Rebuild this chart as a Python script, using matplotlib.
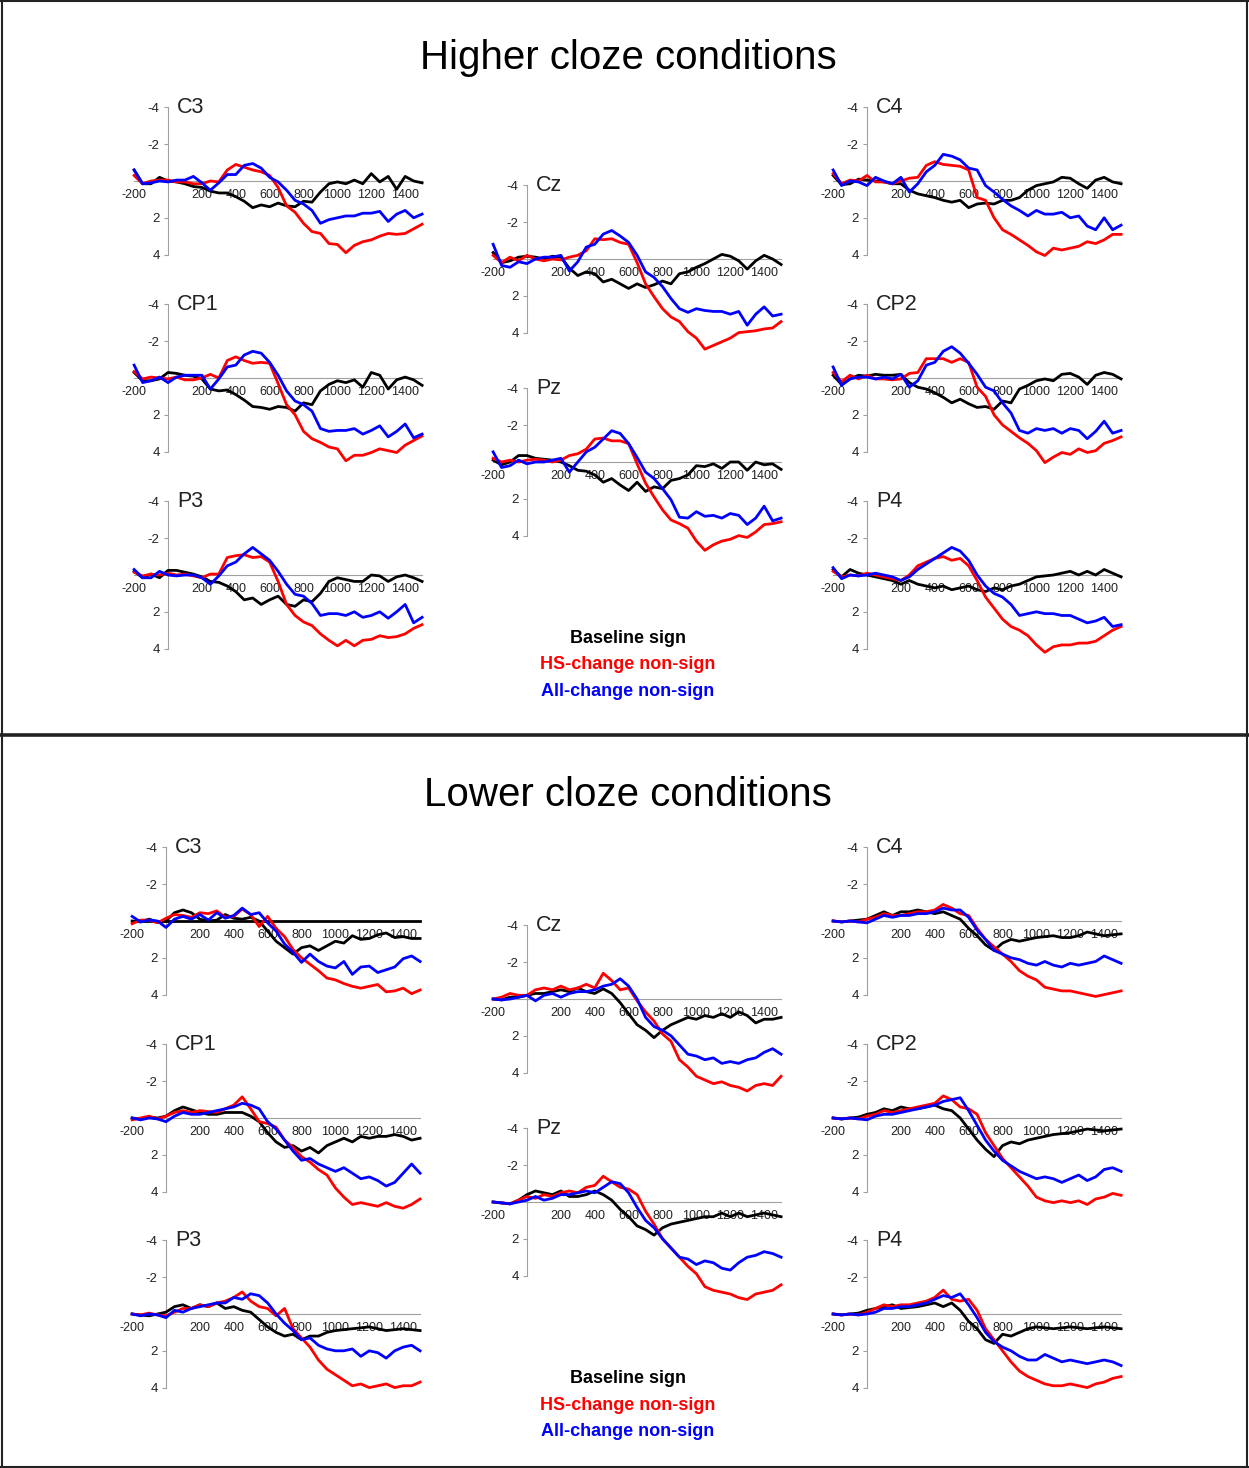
import numpy as np
import matplotlib.pyplot as plt

plt.rcParams['font.family'] = ['Liberation Sans', 'DejaVu Sans']
plt.rcParams['axes.unicode_minus'] = False

# time axis (ms), one sample every 50 ms
times = list(range(-200, 1501, 50))
series_names = ['Baseline sign', 'HS-change non-sign', 'All-change non-sign']
series_colors = ['black', '#ff0000', '#0000ff']
xtick_vals = [-200, 200, 400, 600, 800, 1000, 1200, 1400]
ytick_vals = [-4, -2, 2, 4]

# ---- higher cloze (uV, negative up) ----
hi_c3_base = [-0.6,0.15,0.15,-0.2,0,0.05,0.15,0.3,0.35,0.55,0.65,0.65,0.85,1.1,1.45,1.3,1.4,1.2,1.35,1.4,1.1,1.15,0.6,0.15,0.05,0.15,-0.05,0.15,-0.4,0.05,-0.25,0.45,-0.25,0,0.1]
hi_c3_hs = [-0.3,0.15,0,-0.05,-0.05,0.05,0.05,0.15,0.15,0,0.05,-0.6,-0.9,-0.75,-0.6,-0.5,-0.3,0.35,1.35,1.7,2.3,2.75,2.85,3.4,3.45,3.9,3.5,3.3,3.2,3.0,2.85,2.9,2.85,2.6,2.35]
hi_c3_all = [-0.6,0.15,0.1,0,0.05,-0.05,-0.05,-0.25,0.1,0.5,0.1,-0.35,-0.35,-0.85,-0.95,-0.7,-0.2,0.05,0.5,1.05,1.25,1.6,2.3,2.1,2.0,1.9,1.9,1.75,1.75,1.65,2.2,1.8,1.6,2.0,1.8]

hi_cp1_base = [-0.3,0.15,0.15,0.05,-0.3,-0.25,-0.15,-0.1,0.05,0.6,0.7,0.65,0.9,1.2,1.55,1.6,1.7,1.55,1.6,1.8,1.35,1.45,0.7,0.35,0.15,0.25,0.1,0.5,-0.3,-0.15,0.6,0.1,-0.05,0.1,0.4]
hi_cp1_hs = [-0.35,0.05,-0.05,0,0.05,-0.05,0.1,0.1,0,-0.2,0,-0.95,-1.15,-0.95,-0.8,-0.85,-0.8,0.3,1.45,2.0,2.9,3.3,3.5,3.75,3.85,4.5,4.2,4.2,4.05,3.85,3.95,4.05,3.65,3.4,3.15]
hi_cp1_all = [-0.7,0.25,0.15,-0.05,0.25,-0.05,-0.15,-0.15,-0.15,0.6,0.05,-0.6,-0.7,-1.25,-1.45,-1.35,-0.85,-0.15,0.7,1.25,1.45,1.8,2.75,2.9,2.85,2.85,2.75,3.05,2.85,2.6,3.2,2.9,2.5,3.25,3.05]

hi_p3_base = [-0.2,0.15,-0.05,0.15,-0.25,-0.25,-0.15,-0.05,0.1,0.35,0.4,0.6,0.9,1.35,1.25,1.6,1.35,1.15,1.6,1.7,1.35,1.45,1.0,0.35,0.15,0.25,0.35,0.35,0,0.05,0.35,0.1,0,0.15,0.35]
hi_p3_hs = [-0.15,0.05,-0.05,0,-0.1,0,-0.05,0.05,0.15,-0.05,-0.05,-0.95,-1.05,-1.1,-0.95,-1.0,-0.7,0.35,1.6,2.2,2.55,2.75,3.2,3.55,3.85,3.55,3.85,3.55,3.5,3.3,3.4,3.35,3.2,2.9,2.7]
hi_p3_all = [-0.3,0.15,0.15,-0.2,0,0.05,0,0,0.15,0.5,0.05,-0.5,-0.7,-1.15,-1.5,-1.15,-0.8,-0.2,0.5,1.05,1.15,1.55,2.2,2.1,2.1,2.2,2.0,2.3,2.2,2.0,2.35,2.0,1.6,2.6,2.3]

hi_cz_base = [-0.35,0.2,0.1,-0.1,-0.15,-0.1,0,-0.15,-0.1,0.5,0.9,0.7,0.8,1.25,1.1,1.35,1.6,1.35,1.55,1.4,1.2,1.35,0.8,0.7,0.45,0.25,0,-0.25,-0.15,0.1,0.55,0.1,-0.2,0,0.3]
hi_cz_hs = [-0.2,0.2,-0.1,0.1,-0.2,0,0.1,0,0.05,-0.1,-0.2,-0.45,-1.1,-1.05,-1.1,-0.9,-0.8,0.2,1.35,2.05,2.7,3.15,3.4,3.95,4.3,4.9,4.7,4.5,4.3,4.0,3.95,3.9,3.8,3.75,3.4]
hi_cz_all = [-0.8,0.35,0.45,0.15,0.25,0,-0.1,-0.1,-0.2,0.65,0.15,-0.65,-0.8,-1.35,-1.55,-1.25,-0.9,-0.2,0.7,1.0,1.5,2.15,2.7,2.9,2.7,2.8,2.85,2.85,3.0,2.85,3.6,3.0,2.6,3.1,3.0]

hi_pz_base = [-0.1,0.15,0,-0.35,-0.35,-0.2,-0.15,-0.1,0,0.2,0.45,0.5,0.7,1.1,0.9,1.25,1.55,1.1,1.6,1.35,1.45,1.0,0.9,0.7,0.2,0.25,0.1,0.35,0,0,0.45,0,0.15,0.1,0.4]
hi_pz_hs = [-0.2,0,-0.1,0,-0.1,-0.15,-0.1,0,-0.1,-0.35,-0.45,-0.7,-1.25,-1.3,-1.15,-1.15,-1.0,0.1,1.15,1.9,2.6,3.15,3.35,3.6,4.3,4.8,4.5,4.3,4.2,4.0,4.1,3.8,3.4,3.35,3.25]
hi_pz_all = [-0.55,0.3,0.2,-0.1,0.1,0,0,-0.1,-0.2,0.55,0,-0.55,-0.8,-1.25,-1.7,-1.55,-1.0,-0.25,0.55,0.9,1.45,2.05,3.0,3.05,2.7,2.95,2.9,3.05,2.8,2.9,3.4,3.05,2.4,3.2,3.05]

hi_c4_base = [-0.3,0.2,0.15,-0.1,-0.05,0,0.05,0.15,0.15,0.5,0.7,0.8,0.9,1.05,1.15,1.05,1.45,1.25,1.2,1.25,1.05,1.05,0.9,0.5,0.25,0.15,0.05,-0.2,-0.15,0.15,0.4,-0.05,-0.2,0.05,0.15]
hi_c4_hs = [-0.4,0.15,-0.05,0,-0.3,0.05,0.05,0.15,0,-0.15,-0.2,-0.85,-1.05,-0.9,-0.85,-0.8,-0.6,0.9,1.05,2.0,2.65,2.9,3.2,3.5,3.85,4.05,3.65,3.75,3.65,3.55,3.3,3.4,3.2,2.9,2.9]
hi_c4_all = [-0.6,0.25,0,0.05,0.25,-0.2,0,0.15,-0.2,0.6,0.15,-0.5,-0.85,-1.45,-1.35,-1.15,-0.7,-0.6,0.25,0.6,1.0,1.35,1.6,1.9,1.6,1.8,1.8,1.7,2.0,1.9,2.45,2.65,2.0,2.65,2.4]

hi_cp2_base = [-0.15,0.35,0.05,-0.15,-0.1,-0.2,-0.15,-0.15,-0.2,0.25,0.5,0.6,0.8,1.05,1.35,1.15,1.4,1.6,1.55,1.7,1.25,1.35,0.6,0.4,0.15,0.05,0.15,-0.2,-0.25,-0.05,0.35,-0.15,-0.3,-0.2,0.05]
hi_cp2_hs = [-0.3,0.2,-0.15,0.05,-0.15,0.05,0.05,0.1,0.05,-0.25,-0.3,-1.05,-1.05,-1.05,-0.85,-1.05,-0.85,0.5,1.0,2.0,2.55,2.9,3.25,3.55,3.95,4.6,4.3,4.05,4.15,3.85,4.05,3.95,3.55,3.4,3.2]
hi_cp2_all = [-0.6,0.4,0.05,-0.05,-0.05,0.05,-0.05,0.05,-0.2,0.5,0.15,-0.7,-0.85,-1.45,-1.7,-1.35,-0.8,-0.2,0.5,0.7,1.35,1.9,2.85,3.0,2.75,2.85,2.75,3.0,2.75,2.85,3.3,2.9,2.35,3.0,2.85]

hi_p4_base = [-0.3,0.1,-0.3,-0.1,0,0.1,0.2,0.3,0.5,0.3,0.5,0.6,0.7,0.6,0.8,0.7,0.6,0.8,0.9,0.7,0.8,0.6,0.5,0.3,0.1,0.05,0.0,-0.1,-0.2,0.0,-0.2,0.0,-0.3,-0.1,0.1]
hi_p4_hs = [-0.2,0.1,0,0.05,-0.1,0,0.1,0.2,0.3,0,-0.5,-0.7,-0.9,-1.0,-0.8,-0.9,-0.5,0.3,1.2,1.8,2.4,2.8,3.0,3.3,3.8,4.2,3.9,3.8,3.8,3.7,3.7,3.6,3.3,3.0,2.8]
hi_p4_all = [-0.4,0.2,0,0.05,0,-0.1,0,0.1,0.3,0.1,-0.3,-0.6,-0.9,-1.2,-1.5,-1.3,-0.8,0,0.6,1.0,1.2,1.6,2.2,2.1,2.0,2.1,2.1,2.2,2.2,2.4,2.6,2.5,2.3,2.8,2.7]

# ---- lower cloze ----
lo_c3_base = [0,0.05,-0.1,0.05,0,-0.45,-0.6,-0.45,-0.1,0,-0.05,-0.35,-0.15,-0.1,-0.2,0,0.55,1.1,1.45,1.8,1.45,1.35,1.6,1.35,1.1,1.2,0.8,1.0,0.95,0.75,0.65,0.9,0.85,0.95,0.95]
lo_c3_hs = [0.15,-0.05,-0.05,0.1,-0.15,-0.35,-0.3,-0.2,-0.45,-0.4,-0.55,-0.2,-0.25,-0.65,-0.35,0.3,-0.25,0.4,0.85,1.55,2.0,2.35,2.7,3.1,3.2,3.4,3.55,3.65,3.55,3.45,3.85,3.8,3.65,3.95,3.75]
lo_c3_all = [-0.25,0.05,-0.05,0,0.35,-0.1,-0.25,-0.1,-0.35,-0.05,-0.45,-0.15,-0.3,-0.7,-0.35,-0.45,0.1,0.55,1.25,1.7,2.25,1.8,2.2,2.45,2.55,2.2,2.9,2.5,2.45,2.8,2.65,2.5,2.05,1.9,2.2]

lo_cp1_base = [0,0.05,-0.05,0,-0.1,-0.4,-0.6,-0.45,-0.3,-0.2,-0.2,-0.3,-0.3,-0.3,-0.1,0.2,0.8,1.3,1.6,1.5,1.8,1.6,1.9,1.5,1.3,1.1,1.3,1.0,1.1,1.0,1.0,0.9,1.0,1.2,1.1]
lo_cp1_hs = [0.1,0,-0.1,0.05,-0.1,-0.3,-0.4,-0.3,-0.4,-0.35,-0.3,-0.5,-0.7,-1.15,-0.5,0.2,0.3,0.5,1.2,1.6,2.1,2.4,2.8,3.1,3.8,4.3,4.7,4.6,4.7,4.8,4.6,4.8,4.9,4.7,4.4]
lo_cp1_all = [0,0.1,0,0.05,0.2,-0.1,-0.3,-0.2,-0.2,-0.3,-0.4,-0.5,-0.6,-0.8,-0.7,-0.5,0.2,0.6,1.2,1.8,2.3,2.2,2.5,2.7,2.9,2.7,3.0,3.3,3.2,3.4,3.7,3.5,3.0,2.5,3.0]

lo_p3_base = [0,0.05,0.1,0,-0.1,-0.4,-0.5,-0.3,-0.5,-0.4,-0.6,-0.3,-0.4,-0.2,-0.1,0.3,0.7,1.0,1.2,1.1,1.4,1.2,1.2,1.0,0.9,0.85,0.8,0.75,0.7,0.8,0.9,0.85,0.8,0.85,0.9]
lo_p3_hs = [0,0.05,-0.05,0.05,0.1,-0.1,-0.3,-0.3,-0.5,-0.4,-0.6,-0.7,-0.9,-1.2,-0.7,-0.4,-0.3,0.1,-0.3,0.8,1.3,1.8,2.5,3.0,3.3,3.6,3.9,3.8,4.0,3.9,3.8,4.0,3.9,3.9,3.7]
lo_p3_all = [0,0.1,0,0.05,0.2,-0.2,-0.1,-0.3,-0.4,-0.5,-0.6,-0.6,-0.9,-0.8,-1.1,-1.0,-0.6,0,0.5,0.9,1.4,1.3,1.7,1.9,2.0,2.0,1.9,2.3,2.0,2.1,2.4,2.0,1.8,1.7,2.0]

lo_cz_base = [0,0.05,-0.1,-0.1,-0.2,-0.3,-0.3,-0.4,-0.5,-0.4,-0.6,-0.4,-0.3,-0.55,-0.3,0.2,0.8,1.4,1.7,2.1,1.7,1.4,1.2,1.0,1.1,0.9,1.0,0.8,1.0,0.7,0.9,1.3,1.1,1.1,1.0]
lo_cz_hs = [0,-0.1,-0.3,-0.2,-0.2,-0.5,-0.6,-0.5,-0.7,-0.5,-0.6,-0.8,-0.6,-1.4,-1.0,-0.5,-0.6,0.1,0.7,1.2,1.9,2.3,3.3,3.7,4.2,4.4,4.6,4.5,4.7,4.8,5.0,4.7,4.6,4.7,4.2]
lo_cz_all = [0,0.05,0,-0.1,-0.2,0.1,-0.2,-0.3,-0.1,-0.3,-0.4,-0.4,-0.5,-0.7,-0.8,-1.1,-0.7,0,1.0,1.5,1.7,2.0,2.5,3.0,3.1,3.3,3.2,3.5,3.4,3.5,3.3,3.2,2.9,2.7,3.0]

lo_pz_base = [0,0.05,0.1,-0.1,-0.4,-0.6,-0.5,-0.4,-0.6,-0.3,-0.3,-0.4,-0.6,-0.4,-0.1,0.4,0.8,1.3,1.5,1.8,1.4,1.2,1.1,1.0,0.9,0.8,0.8,0.6,0.8,0.6,0.8,0.7,0.6,0.7,0.8]
lo_pz_hs = [0,0.05,0.1,-0.1,-0.3,-0.2,-0.4,-0.3,-0.5,-0.6,-0.5,-0.8,-0.9,-1.4,-1.1,-0.8,-0.7,-0.4,0.5,1.2,2.0,2.5,3.0,3.5,3.9,4.6,4.8,4.9,5.0,5.2,5.3,5.0,4.9,4.8,4.5]
lo_pz_all = [0,0.05,0.1,0,-0.1,-0.3,-0.1,-0.2,-0.4,-0.4,-0.5,-0.6,-0.5,-0.8,-1.1,-1.0,-0.5,0.3,1.0,1.4,2.0,2.5,3.0,3.1,3.4,3.2,3.3,3.6,3.7,3.3,3.0,2.9,2.7,2.8,3.0]

lo_c4_base = [0,0.05,0,-0.05,-0.1,-0.3,-0.5,-0.3,-0.5,-0.5,-0.6,-0.5,-0.4,-0.5,-0.3,-0.1,0.4,0.8,1.3,1.6,1.2,1.0,1.1,1.0,0.9,0.85,0.8,0.9,0.9,0.8,0.6,0.7,0.8,0.75,0.7]
lo_c4_hs = [0,0.05,0,0.05,-0.1,-0.2,-0.4,-0.3,-0.3,-0.4,-0.5,-0.5,-0.6,-0.9,-0.7,-0.4,-0.3,0.4,1.0,1.4,1.8,2.2,2.7,3.0,3.2,3.6,3.7,3.8,3.8,3.9,4.0,4.1,4.0,3.9,3.8]
lo_c4_all = [0,0.05,0,0.05,0.1,-0.1,-0.3,-0.2,-0.3,-0.3,-0.4,-0.4,-0.5,-0.7,-0.6,-0.6,-0.2,0.5,1.0,1.6,1.8,2.0,2.1,2.3,2.4,2.2,2.4,2.5,2.3,2.4,2.3,2.2,1.9,2.1,2.3]

lo_cp2_base = [0,0.05,0,-0.05,-0.2,-0.3,-0.5,-0.4,-0.6,-0.5,-0.5,-0.6,-0.7,-0.5,-0.4,0,0.6,1.2,1.7,2.1,1.5,1.3,1.4,1.2,1.1,1.0,0.9,0.85,0.8,0.7,0.6,0.65,0.7,0.65,0.6]
lo_cp2_hs = [0,0.05,0,0.05,-0.1,-0.2,-0.4,-0.3,-0.4,-0.5,-0.6,-0.7,-0.8,-1.2,-1.0,-0.6,-0.5,-0.2,0.8,1.5,2.2,2.7,3.2,3.7,4.3,4.5,4.6,4.5,4.6,4.5,4.7,4.4,4.3,4.1,4.2]
lo_cp2_all = [0,0.05,0,0.05,0.1,-0.1,-0.2,-0.2,-0.3,-0.4,-0.5,-0.6,-0.7,-0.9,-1.0,-1.1,-0.4,0.4,1.2,1.8,2.3,2.6,2.9,3.1,3.3,3.2,3.3,3.5,3.3,3.1,3.4,3.2,2.8,2.7,2.9]

lo_p4_base = [0,0.05,0,-0.05,-0.2,-0.3,-0.4,-0.5,-0.3,-0.35,-0.4,-0.5,-0.6,-0.4,-0.6,-0.2,0.4,0.8,1.4,1.6,1.1,1.2,1.0,0.8,0.7,0.75,0.8,0.75,0.7,0.75,0.8,0.75,0.7,0.75,0.8]
lo_p4_hs = [0,0.05,0,0.05,-0.1,-0.3,-0.5,-0.4,-0.5,-0.5,-0.6,-0.7,-0.9,-1.3,-0.8,-0.7,-0.8,-0.2,0.8,1.4,2.0,2.6,3.1,3.4,3.6,3.8,3.9,3.9,3.8,3.9,4.0,3.8,3.7,3.5,3.4]
lo_p4_all = [0,0.05,0,0.05,0,-0.1,-0.3,-0.3,-0.4,-0.4,-0.5,-0.6,-0.8,-1.0,-0.9,-1.1,-0.5,0.2,1.0,1.5,1.8,2.0,2.3,2.5,2.5,2.2,2.4,2.6,2.5,2.6,2.7,2.6,2.5,2.6,2.8]

W, H = 1249, 1468
SX = 0.1694   # px per ms
SY = 18.4     # px per uV

fig = plt.figure(figsize=(W / 100, H / 100), dpi=100)


def add_erp(x0, y0, label, waves, dark_axis=False):
    # x0, y0: pixel position of (0 ms, 0 uV)
    left = x0 - 200 * SX
    top = y0 - 4 * SY
    ax = fig.add_axes([left / W, 1 - (top + 8 * SY) / H, 1700 * SX / W, 8 * SY / H])
    ax.set_xlim(-200, 1500)
    ax.set_ylim(4, -4)
    for s in ['top', 'right']:
        ax.spines[s].set_visible(False)
    ax.spines['left'].set_position(('data', 0))
    ax.spines['bottom'].set_position(('data', 0))
    ax.spines['left'].set_color('#a0a0a0')
    if dark_axis:
        ax.spines['bottom'].set_color('black')
        ax.spines['bottom'].set_linewidth(2)
    else:
        ax.spines['bottom'].set_color('#a0a0a0')
    ax.set_xticks(xtick_vals)
    ax.set_xticklabels([str(v) for v in xtick_vals])
    ax.set_yticks(ytick_vals)
    ax.set_yticklabels([str(v) for v in ytick_vals])
    ax.tick_params(axis='x', length=0, pad=6, labelsize=9, colors='#222222')
    ax.tick_params(axis='y', length=3, width=0.8, color='#a0a0a0', pad=3,
                   labelsize=9.5, labelcolor='#222222')
    ax.patch.set_alpha(0)
    for vals, col in zip(waves, series_colors):
        ax.plot(times, vals, color=col, lw=2.0, zorder=3, clip_on=False,
                solid_joinstyle='round')
    ax.annotate(label, xy=(0, -4), xytext=(6.5, 0), textcoords='offset points',
                fontsize=15.5, va='center', ha='left', color='#222222')
    return ax


# pixel anchors of each plot's origin
hi_layout = [
    (168, 181, 'C3', [hi_c3_base, hi_c3_hs, hi_c3_all]),
    (168, 378, 'CP1', [hi_cp1_base, hi_cp1_hs, hi_cp1_all]),
    (168, 575, 'P3', [hi_p3_base, hi_p3_hs, hi_p3_all]),
    (527, 259, 'Cz', [hi_cz_base, hi_cz_hs, hi_cz_all]),
    (527, 462, 'Pz', [hi_pz_base, hi_pz_hs, hi_pz_all]),
    (867, 181, 'C4', [hi_c4_base, hi_c4_hs, hi_c4_all]),
    (867, 378, 'CP2', [hi_cp2_base, hi_cp2_hs, hi_cp2_all]),
    (867, 575, 'P4', [hi_p4_base, hi_p4_hs, hi_p4_all]),
]
lo_layout = [
    (166, 921, 'C3', [lo_c3_base, lo_c3_hs, lo_c3_all]),
    (166, 1118, 'CP1', [lo_cp1_base, lo_cp1_hs, lo_cp1_all]),
    (166, 1314, 'P3', [lo_p3_base, lo_p3_hs, lo_p3_all]),
    (527, 999, 'Cz', [lo_cz_base, lo_cz_hs, lo_cz_all]),
    (527, 1202, 'Pz', [lo_pz_base, lo_pz_hs, lo_pz_all]),
    (867, 921, 'C4', [lo_c4_base, lo_c4_hs, lo_c4_all]),
    (867, 1118, 'CP2', [lo_cp2_base, lo_cp2_hs, lo_cp2_all]),
    (867, 1314, 'P4', [lo_p4_base, lo_p4_hs, lo_p4_all]),
]

for x0, y0, lab, waves in hi_layout:
    add_erp(x0, y0, lab, waves)
for i, (x0, y0, lab, waves) in enumerate(lo_layout):
    add_erp(x0, y0, lab, waves, dark_axis=(i == 0))


def fy(y):
    return 1 - y / H


# titles and legends
fig.text(628 / W, fy(69), 'Higher cloze conditions', ha='center', va='baseline',
         fontsize=29, color='black')
fig.text(628 / W, fy(806), 'Lower cloze conditions', ha='center', va='baseline',
         fontsize=29, color='black')
for base in (643, 1383):
    for k, (name, col) in enumerate(zip(series_names, series_colors)):
        fig.text(628 / W, fy(base + 26.5 * k), name, ha='center', va='baseline',
                 fontsize=13, fontweight='bold', color=col)

# frame around the two panels
frame = dict(color='#222222', transform=fig.transFigure, clip_on=False)
fig.add_artist(plt.Line2D([1.5 / W, 1.5 / W], [0, 1], lw=1.5, **frame))
fig.add_artist(plt.Line2D([1247 / W, 1247 / W], [0, 1], lw=1.5, **frame))
fig.add_artist(plt.Line2D([0, 1], [fy(0.8), fy(0.8)], lw=1.5, **frame))
fig.add_artist(plt.Line2D([0, 1], [fy(1467.2), fy(1467.2)], lw=1.5, **frame))
fig.add_artist(plt.Line2D([0, 1], [fy(734.5), fy(734.5)], lw=2.6, **frame))

fig.savefig('out.png', dpi=100, facecolor='white')
